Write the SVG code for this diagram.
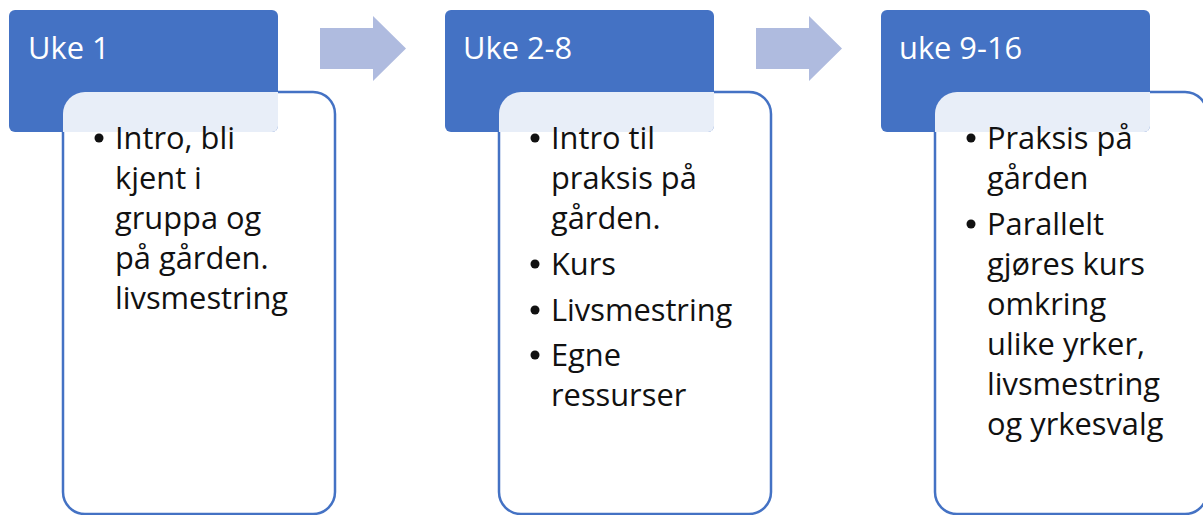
<svg xmlns="http://www.w3.org/2000/svg" width="1203" height="515" viewBox="0 0 1203 515">
  <style>
    .head { fill: #4472C4; }
    .card { fill: #ffffff; stroke: #4472C4; stroke-width: 2.5; }
    .veil { fill: #ffffff; fill-opacity: 0.88; }
    .title { font-family: "Open Sans", "Liberation Sans", sans-serif; font-size: 30.8px; fill: #ffffff; }
    .body { font-family: "Open Sans", "Liberation Sans", sans-serif; font-size: 30.8px; fill: #111111; }
    .dot { fill: #111111; }
    .flow { fill: #AFBBDF; }
  </style>
  <defs>
    <clipPath id="clipHead1"><rect x="9" y="10" width="269" height="122" rx="6"/></clipPath>
    <clipPath id="clipHead2"><rect x="445" y="10" width="269" height="122" rx="6"/></clipPath>
    <clipPath id="clipHead3"><rect x="881" y="10" width="269" height="122" rx="6"/></clipPath>
  </defs>

  <g id="connectors">
    <path class="flow" d="M320,28 H373 V16 L406,48.5 L373,81 V69 H320 Z"/>
    <path class="flow" d="M756,28 H809 V16 L842,48.5 L809,81 V69 H756 Z"/>
  </g>

  <!-- Stage 1 -->
  <g id="stage1">
    <rect class="card" x="63" y="92" width="272" height="422" rx="22"/>
    <rect class="head" x="9" y="10" width="269" height="122" rx="6"/>
    <rect class="veil" x="63" y="92" width="272" height="422" rx="22" clip-path="url(#clipHead1)"/>
    <text class="title" x="28" y="59">Uke 1</text>
    <circle class="dot" cx="99" cy="138" r="4.5"/>
    <text class="body" x="115" y="149">Intro, bli</text>
    <text class="body" x="115" y="189">kjent i</text>
    <text class="body" x="115" y="229">gruppa og</text>
    <text class="body" x="115" y="269">på gården.</text>
    <text class="body" x="115" y="309">livsmestring</text>
  </g>

  <!-- Stage 2 -->
  <g id="stage2">
    <rect class="card" x="499" y="92" width="272" height="422" rx="22"/>
    <rect class="head" x="445" y="10" width="269" height="122" rx="6"/>
    <rect class="veil" x="499" y="92" width="272" height="422" rx="22" clip-path="url(#clipHead2)"/>
    <text class="title" x="463" y="59">Uke 2-8</text>
    <circle class="dot" cx="535" cy="138" r="4.5"/>
    <text class="body" x="551" y="149">Intro til</text>
    <text class="body" x="551" y="189">praksis på</text>
    <text class="body" x="551" y="229">gården.</text>
    <circle class="dot" cx="535" cy="264" r="4.5"/>
    <text class="body" x="551" y="275">Kurs</text>
    <circle class="dot" cx="535" cy="310" r="4.5"/>
    <text class="body" x="551" y="321">Livsmestring</text>
    <circle class="dot" cx="535" cy="355" r="4.5"/>
    <text class="body" x="551" y="366">Egne</text>
    <text class="body" x="551" y="406">ressurser</text>
  </g>

  <!-- Stage 3 -->
  <g id="stage3">
    <rect class="card" x="935" y="92" width="272" height="422" rx="22"/>
    <rect class="head" x="881" y="10" width="269" height="122" rx="6"/>
    <rect class="veil" x="935" y="92" width="272" height="422" rx="22" clip-path="url(#clipHead3)"/>
    <text class="title" x="899" y="59">uke 9-16</text>
    <circle class="dot" cx="971" cy="138" r="4.5"/>
    <text class="body" x="987" y="149">Praksis på</text>
    <text class="body" x="987" y="189">gården</text>
    <circle class="dot" cx="971" cy="224" r="4.5"/>
    <text class="body" x="987" y="235">Parallelt</text>
    <text class="body" x="987" y="275">gjøres kurs</text>
    <text class="body" x="987" y="315">omkring</text>
    <text class="body" x="987" y="355">ulike yrker,</text>
    <text class="body" x="987" y="395">livsmestring</text>
    <text class="body" x="987" y="435">og yrkesvalg</text>
  </g>
</svg>
